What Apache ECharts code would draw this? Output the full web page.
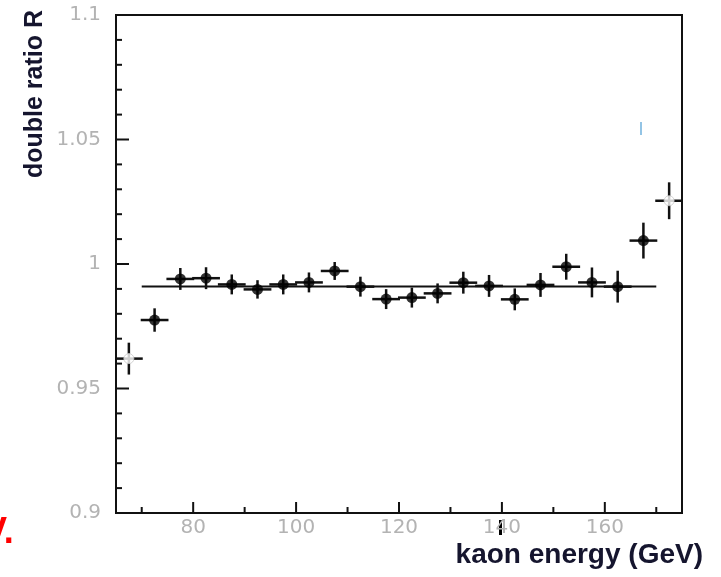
<!DOCTYPE html>
<html lang="en">
<head>
  <meta charset="UTF-8">
  <title>double ratio R vs kaon energy</title>
  <script src="https://cdn.jsdelivr.net/npm/echarts@6/dist/echarts.min.js"></script>
  <style>
    html, body { margin: 0; padding: 0; background: #fff; }
    #chart { width: 721px; height: 577px; }
  </style>
</head>
<body>
  <div id="chart"></div>
  <script type="text/javascript">
    // bin centres (GeV) and measured double ratio with errors
    const energy = [67.5, 72.5, 77.5, 82.5, 87.5, 92.5, 97.5, 102.5, 107.5, 112.5, 117.5,
                    122.5, 127.5, 132.5, 137.5, 142.5, 147.5, 152.5, 157.5, 162.5, 167.5, 172.5];
    const ratio = [0.962, 0.9775, 0.994, 0.9943, 0.9918, 0.9898, 0.9918, 0.9926, 0.9972, 0.9909, 0.9859,
                   0.9865, 0.9882, 0.9925, 0.9912, 0.9858, 0.9916, 0.9989, 0.9926, 0.9909, 1.0094, 1.0254];
    const ratioErr = [0.0064, 0.0047, 0.0044, 0.0044, 0.004, 0.0037, 0.004, 0.004, 0.0036, 0.004, 0.004,
                      0.004, 0.004, 0.0044, 0.0044, 0.0044, 0.0048, 0.0052, 0.006, 0.0064, 0.0072, 0.0074];
    const energyHalfWidth = 2.7;
    // points outside the fit range are drawn hollow
    const openEnergies = [67.5, 172.5];

    const fitValue = 0.991;
    const fitRange = [70, 170];

    const xRange = [65, 175];
    const yRange = [0.9, 1.1];
    const xMajorTicks = [80, 100, 120, 140, 160];
    const xMinorTicks = [70, 90, 110, 130, 150, 170];
    const yMajorTicks = [0.9, 0.95, 1, 1.05, 1.1];
    const yMinorTicks = [0.91, 0.92, 0.93, 0.94, 0.96, 0.97, 0.98, 0.99,
                         1.01, 1.02, 1.03, 1.04, 1.06, 1.07, 1.08, 1.09];
    const yTickLabels = ['0.9', '0.95', '1', '1.05', '1.1'];

    const barData = energy.map((e, i) => [e, ratio[i], energyHalfWidth, ratioErr[i]]);
    const filled = energy.map((e, i) => [e, ratio[i]]).filter(p => !openEnergies.includes(p[0]));
    const hollow = energy.map((e, i) => [e, ratio[i]]).filter(p => openEnergies.includes(p[0]));

    const chart = echarts.init(document.getElementById('chart'));

    const labelStyle = {
      color: '#b3b3b3',
      fontFamily: 'DejaVu Sans',
      fontSize: 20,
    };

    // inward ticks, placed through the axis scales
    function tickSeries(axis, values, len) {
      return {
        type: 'custom',
        silent: true,
        z: 5,
        data: values.map(v => [v, v]),
        renderItem(params, api) {
          const v = api.value(0);
          let shape;
          if (axis === 'x') {
            const p = api.coord([v, yRange[0]]);
            shape = { x1: p[0], y1: p[1], x2: p[0], y2: p[1] - len };
          } else {
            const p = api.coord([xRange[0], v]);
            shape = { x1: p[0], y1: p[1], x2: p[0] + len, y2: p[1] };
          }
          return { type: 'line', shape, style: { stroke: '#111', lineWidth: 2 } };
        },
      };
    }

    const option = {
      animation: false,
      grid: {
        left: 116, right: 39, top: 15, bottom: 64,
        show: true, borderColor: '#111', borderWidth: 2,
        outerBoundsMode: 'none',
      },
      xAxis: {
        type: 'value', min: xRange[0], max: xRange[1],
        axisLine: { show: true, lineStyle: { color: '#111', width: 2 } },
        axisTick: { show: false },
        axisLabel: { show: true, ...labelStyle, margin: 5, customValues: xMajorTicks },
        splitLine: { show: false },
      },
      yAxis: {
        type: 'value', min: yRange[0], max: yRange[1], interval: 0.05,
        axisLine: { show: true, lineStyle: { color: '#111', width: 2 } },
        axisTick: { show: false },
        axisLabel: {
          show: true, ...labelStyle, margin: 15,
          formatter: v => yTickLabels[yMajorTicks.findIndex(t => Math.abs(t - v) < 1e-6)] || '',
        },
        splitLine: { show: false },
      },
      series: [
        tickSeries('x', xMajorTicks, 11),
        tickSeries('x', xMinorTicks, 6),
        tickSeries('y', yMajorTicks, 13),
        tickSeries('y', yMinorTicks, 6),
      {
        type: 'line',
        data: [[fitRange[0], fitValue], [fitRange[1], fitValue]],
        symbol: 'none',
        lineStyle: { color: '#111', width: 2 },
        z: 1,
      }, {
        type: 'custom',
        data: barData,
        encode: { x: 0, y: 1 },
        z: 2,
        renderItem(params, api) {
          const x = api.value(0), y = api.value(1), ex = api.value(2), ey = api.value(3);
          const l = api.coord([x - ex, y]), r = api.coord([x + ex, y]);
          const t = api.coord([x, y + ey]), b = api.coord([x, y - ey]);
          const st = { stroke: '#111', lineWidth: 2.5 };
          return {
            type: 'group',
            children: [
              { type: 'line', shape: { x1: l[0], y1: l[1], x2: r[0], y2: r[1] }, style: st },
              { type: 'line', shape: { x1: t[0], y1: t[1], x2: b[0], y2: b[1] }, style: st },
            ],
          };
        },
      }, {
        type: 'scatter',
        data: filled,
        symbol: 'circle',
        symbolSize: 11,
        itemStyle: { color: '#000' },
        z: 3,
      }, {
        type: 'scatter',
        data: hollow,
        symbol: 'circle',
        symbolSize: 10,
        itemStyle: { color: '#fff', borderColor: '#c8c8c8', borderWidth: 1 },
        z: 3,
      }],
      graphic: [{
        type: 'text',
        x: 703, y: 555,
        style: {
          text: 'kaon energy (GeV)',
          fill: '#15152e',
          font: 'bold 28px "Liberation Sans", Arial, sans-serif',
          textAlign: 'right',
          textVerticalAlign: 'middle',
        },
      }, {
        type: 'text',
        x: 35, y: 94,
        rotation: Math.PI / 2,
        style: {
          text: 'double ratio R',
          fill: '#15152e',
          font: 'bold 25px "Liberation Sans", Arial, sans-serif',
          textAlign: 'center',
          textVerticalAlign: 'middle',
        },
      }, {
        type: 'text',
        x: -17, y: 533,
        style: {
          text: 'V.',
          fill: '#ff0000',
          font: 'bold 36px "Liberation Sans", Arial, sans-serif',
          textAlign: 'left',
          textVerticalAlign: 'middle',
        },
      }, {
        type: 'line',
        shape: { x1: 641, y1: 122, x2: 641, y2: 135 },
        style: { stroke: '#6fb0dd', lineWidth: 1.5 },
      }, {
        type: 'rect',
        shape: { x: 499, y: 520, width: 3, height: 15 },
        style: { fill: '#000' },
      }],
    };

    chart.setOption(option);
  </script>
</body>
</html>
